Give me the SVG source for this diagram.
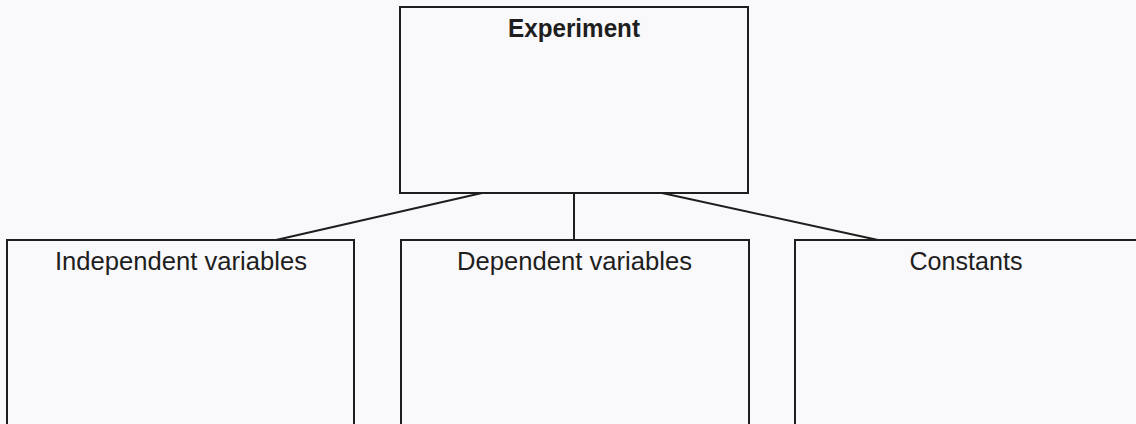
<svg xmlns="http://www.w3.org/2000/svg" width="1136" height="424" viewBox="0 0 1136 424">
<style>
.box{fill:none;stroke:#1e1e1e;stroke-width:2}
.conn{stroke:#1e1e1e;stroke-width:2;fill:none}
.lbl{font-family:"Liberation Sans",Arial,sans-serif;font-size:25px;fill:#1e1e1e;text-anchor:middle}
.title{font-weight:bold;font-size:25px}
</style>
<rect width="1136" height="424" fill="#f9f9fb"/>
<g id="connectors">
<line class="conn" x1="574" y1="193" x2="574" y2="240"/>
<line class="conn" x1="482" y1="193" x2="276" y2="240"/>
<line class="conn" x1="662" y1="193" x2="878" y2="240"/>
</g>
<g id="experiment">
<rect class="box" x="400" y="7" width="348" height="186"/>
<text class="lbl title" x="574" y="37" textLength="132" lengthAdjust="spacingAndGlyphs">Experiment</text>
</g>
<g id="independent">
<rect class="box" x="7" y="240" width="347" height="190"/>
<text class="lbl" x="181" y="270" textLength="252" lengthAdjust="spacingAndGlyphs">Independent variables</text>
</g>
<g id="dependent">
<rect class="box" x="401" y="240" width="348" height="190"/>
<text class="lbl" x="574.5" y="270" textLength="235" lengthAdjust="spacingAndGlyphs">Dependent variables</text>
</g>
<g id="constants">
<rect class="box" x="795" y="240" width="350" height="190"/>
<text class="lbl" x="966" y="270" textLength="113" lengthAdjust="spacingAndGlyphs">Constants</text>
</g>
</svg>
